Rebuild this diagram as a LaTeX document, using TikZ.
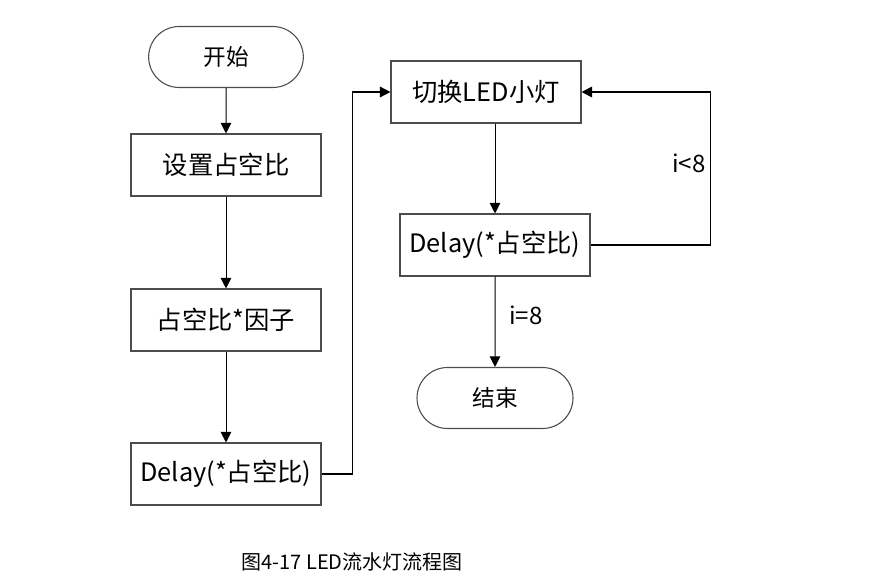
\documentclass[tikz,border=0pt]{standalone}
\usepackage{fontspec}
\setmainfont{Noto Sans CJK SC}
\usetikzlibrary{arrows.meta,shapes.misc}

\tikzset{
  box/.style={draw=black!70, line width=0.8pt, fill=white, inner sep=0pt,
    minimum width=142.5pt, minimum height=46.5pt, font=\fontsize{19}{22}\selectfont},
  term/.style={box, rounded rectangle, minimum width=116pt, minimum height=45.75pt,
    font=\fontsize{17}{20}\selectfont},
  flow/.style={line width=0.75pt, -{Triangle[width=8pt,length=8pt]}},
  loopflow/.style={flow, line width=1.4pt},
  lbl/.style={font=\fontsize{18}{21}\selectfont, inner sep=0pt}
}

\begin{document}
\begin{tikzpicture}[x=0.75pt,y=-0.75pt]
  \useasboundingbox (0,0) rectangle (879,588);
  % left column
  \node[term] (start) at (226,57) {开始};
  \node[box] (setduty) at (226,165) {设置占空比};
  \node[box] (mulduty) at (226,320) {占空比*因子};
  \node[box] (delayA) at (226,474) {Delay(*占空比)};
  % right column
  \node[box] (toggle) at (486,92) {切换LED小灯};
  \node[box] (delayB) at (495,245) {Delay(*占空比)};
  \node[term, minimum width=117pt] (stop) at (495,398) {结束};

  \draw[flow] (start) -- (setduty);
  \draw[flow] (setduty) -- (mulduty);
  \draw[flow] (mulduty) -- (delayA);
  \draw[loopflow, line width=1.1pt] (delayA.east) -- ++(31,0) |- (toggle.west);
  \draw[flow] (toggle.south -| delayB.north) -- (delayB.north);
  \draw[loopflow] (delayB.east) -- ++(120,0) |- (toggle.east);
  \draw[flow] (delayB) -- (stop);

  \node[lbl] (lt) at (689,163) {i<8};
  \node[lbl] (eq) at (526,315) {i=8};

  \node[font=\fontsize{15}{18}\selectfont] (cap) at (352,562) {图4-17 LED流水灯流程图};
\end{tikzpicture}
\end{document}
